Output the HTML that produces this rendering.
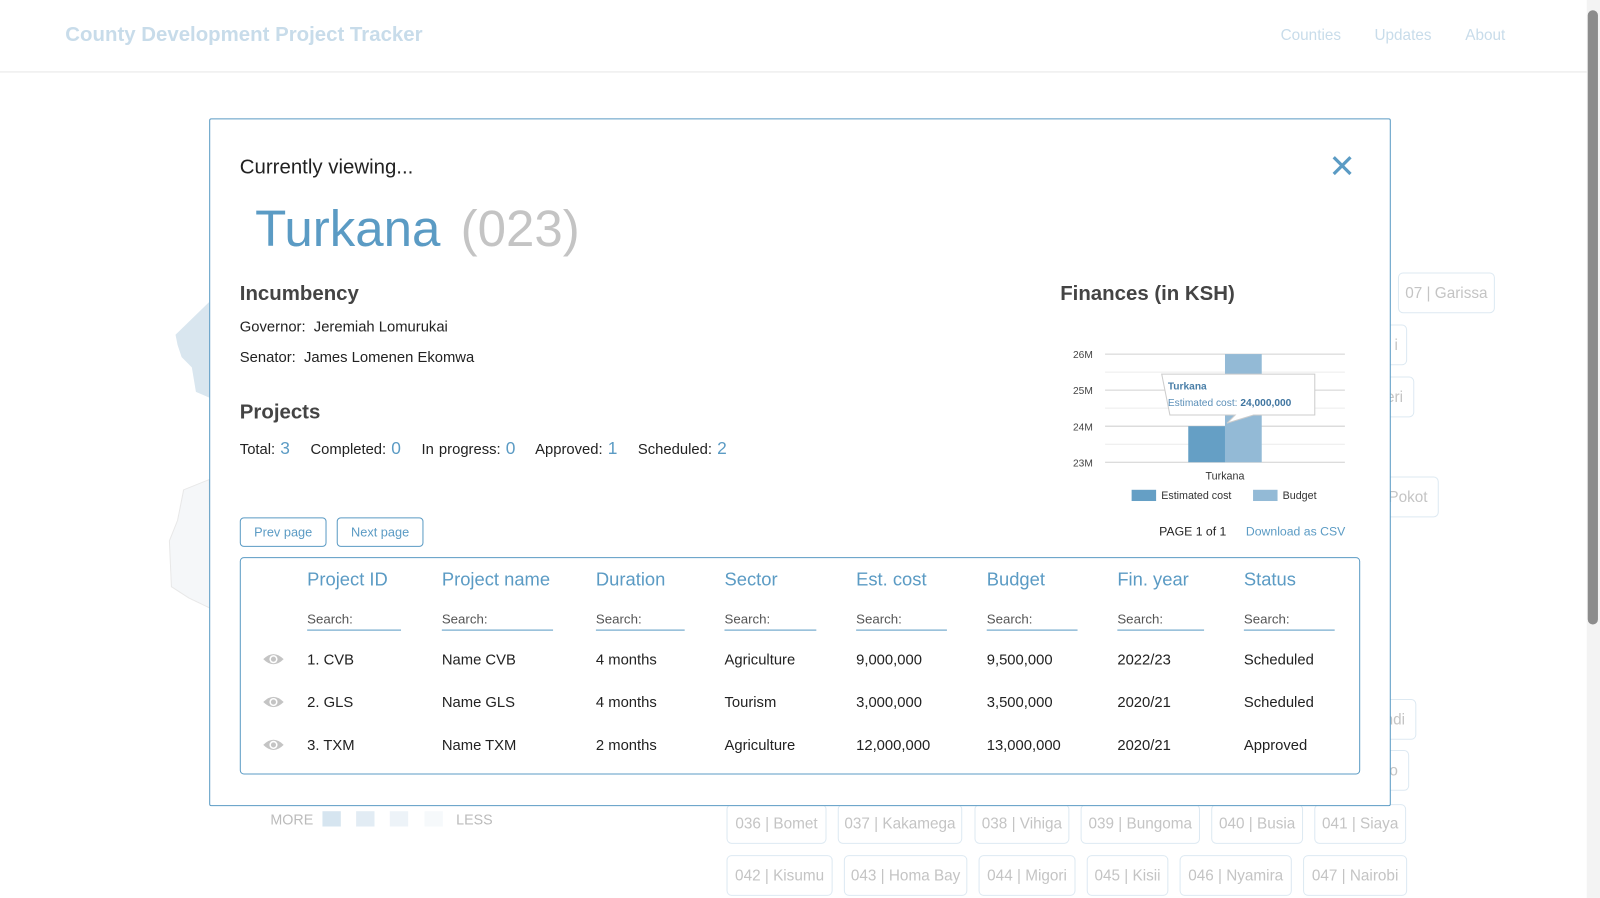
<!DOCTYPE html>
<html><head><meta charset="utf-8">
<style>
*{box-sizing:border-box}
html,body{margin:0;width:1600px;height:898px;overflow:hidden;background:#fff}
#wrap{position:absolute;left:0;top:0;width:1568px;height:880px;transform:scale(1.0204);transform-origin:0 0;font-family:"Liberation Sans",sans-serif;color:#222}
.abs{position:absolute}
.chip{position:absolute;border:1px solid #dde9f2;border-radius:5px;color:#c4c4c4;font-size:15px;display:flex;align-items:center;justify-content:center;white-space:nowrap;overflow:hidden}
.th{position:absolute;top:558px;color:#5b9bc4;font-size:18px}
.srch{position:absolute;top:599px;font-size:13px;color:#555;border-bottom:1px solid #5b9bc4;padding-bottom:3px}
.td{position:absolute;font-size:14.5px;color:#222}
.btn{position:absolute;top:507px;height:29px;border:1px solid #5b9bc4;border-radius:4px;color:#5b9bc4;font-size:12.5px;display:flex;align-items:center;justify-content:center}
</style></head><body>
<div id="wrap">
<div class="abs" style="left:64px;top:23px;font-size:20px;font-weight:bold;color:#c8dcea">County Development Project Tracker</div>
<div class="abs" style="left:1255px;top:26px;font-size:15px;color:#c8dcea">Counties</div>
<div class="abs" style="left:1347px;top:26px;font-size:15px;color:#c8dcea">Updates</div>
<div class="abs" style="left:1436px;top:26px;font-size:15px;color:#c8dcea">About</div>
<div class="abs" style="left:0;top:70px;width:1555px;height:1px;background:#e6e6e6"></div>
<div class="abs" style="left:1555px;top:0;width:13px;height:880px;background:#f3f3f3"><div style="position:absolute;left:1px;top:10px;width:10px;height:602px;background:#8c8c8c;border-radius:5px"></div></div>

<svg class="abs" style="left:160px;top:290px" width="50" height="310">
<polygon points="12,38 45,6 46,100 32,94 28,70 18,60 14,48" fill="#d9e6ef"/>
<polygon points="20,190 45,180 46,306 25,296 8,285 6,240 14,220" fill="#f5f7f9" stroke="#e8e8e8"/>
</svg>

<div class="chip" style="left:1370px;top:267px;width:95px;height:40px">07 | Garissa</div>
<div class="chip" style="left:1340px;top:318px;width:39px;height:40px;justify-content:flex-end;padding-right:8px">i</div>
<div class="chip" style="left:1340px;top:369px;width:46px;height:40px;justify-content:flex-end;padding-right:10px">eri</div>
<div class="chip" style="left:1340px;top:467px;width:70px;height:40px;justify-content:flex-end;padding-right:10px">Pokot</div>
<div class="chip" style="left:1340px;top:685px;width:48px;height:40px;justify-content:flex-end;padding-right:10px">ndi</div>
<div class="chip" style="left:1340px;top:735px;width:41px;height:40px;justify-content:flex-end;padding-right:10px">o</div>

<div class="abs" style="left:265px;top:795px;font-size:14px;color:#bbb">MORE</div>
<div class="abs" style="left:316px;top:795px;width:18px;height:15px;background:#d6e5f0"></div>
<div class="abs" style="left:349px;top:795px;width:18px;height:15px;background:#e2ecf4"></div>
<div class="abs" style="left:382px;top:795px;width:18px;height:15px;background:#edf3f8"></div>
<div class="abs" style="left:416px;top:795px;width:18px;height:15px;background:#f6f9fb"></div>
<div class="abs" style="left:447px;top:795px;font-size:14px;color:#bbb">LESS</div>

<div class="chip" style="left:712px;top:788px;width:98px;height:39px">036 | Bomet</div>
<div class="chip" style="left:821px;top:788px;width:122px;height:39px">037 | Kakamega</div>
<div class="chip" style="left:955px;top:788px;width:93px;height:39px">038 | Vihiga</div>
<div class="chip" style="left:1059px;top:788px;width:117px;height:39px">039 | Bungoma</div>
<div class="chip" style="left:1187px;top:788px;width:90px;height:39px">040 | Busia</div>
<div class="chip" style="left:1288px;top:788px;width:90px;height:39px">041 | Siaya</div>
<div class="chip" style="left:712px;top:838px;width:104px;height:40px">042 | Kisumu</div>
<div class="chip" style="left:827px;top:838px;width:121px;height:40px">043 | Homa Bay</div>
<div class="chip" style="left:959px;top:838px;width:95px;height:40px">044 | Migori</div>
<div class="chip" style="left:1065px;top:838px;width:80px;height:40px">045 | Kisii</div>
<div class="chip" style="left:1156px;top:838px;width:110px;height:40px">046 | Nyamira</div>
<div class="chip" style="left:1277px;top:838px;width:102px;height:40px">047 | Nairobi</div>

<div class="abs" style="left:205px;top:116px;width:1158px;height:674px;border:1px solid #5b9bc4;background:#fff;border-radius:2px"></div>
<div class="abs" style="left:235px;top:153px;font-size:20px;color:#222">Currently viewing...</div>
<div class="abs" style="left:1302px;top:148px;font-size:32px;line-height:30px;color:#5b9bc4">✕</div>
<div class="abs" style="left:250px;top:195px;font-size:50px;color:#5b9bc4">Turkana <span style="color:#c4c4c4;margin-left:6px">(023)</span></div>

<div class="abs" style="left:235px;top:277px;font-size:20px;font-weight:bold;color:#444">Incumbency</div>
<div class="abs" style="left:235px;top:313px;font-size:14.5px">Governor:&nbsp; Jeremiah Lomurukai</div>
<div class="abs" style="left:235px;top:343px;font-size:14.5px">Senator:&nbsp; James Lomenen Ekomwa</div>
<div class="abs" style="left:235px;top:393px;font-size:20px;font-weight:bold;color:#444">Projects</div>
<div class="abs" style="left:235px;top:430px;font-size:14.5px;word-spacing:1px">Total: <span style="color:#5b9bc4;font-size:17px">3</span>&nbsp;&nbsp;&nbsp; Completed: <span style="color:#5b9bc4;font-size:17px">0</span>&nbsp;&nbsp;&nbsp; In progress: <span style="color:#5b9bc4;font-size:17px">0</span>&nbsp;&nbsp;&nbsp; Approved: <span style="color:#5b9bc4;font-size:17px">1</span>&nbsp;&nbsp;&nbsp; Scheduled: <span style="color:#5b9bc4;font-size:17px">2</span></div>

<div class="abs" style="left:1039px;top:277px;font-size:20px;font-weight:bold;color:#444">Finances (in KSH)</div>
<svg class="abs" id="chart" style="left:1030px;top:330px" width="300" height="170"></svg>

<div class="btn" style="left:235px;width:85px">Prev page</div>
<div class="btn" style="left:330px;width:85px">Next page</div>
<div class="abs" style="left:1136px;top:514px;font-size:12px">PAGE 1 of 1</div>
<div class="abs" style="left:1221px;top:514px;font-size:12px;color:#5b9bc4">Download as CSV</div>

<div class="abs" style="left:235px;top:546px;width:1098px;height:213px;border:1px solid #5b9bc4;border-radius:4px"></div>
<div class="th" style="left:301px">Project ID</div>
<div class="th" style="left:433px">Project name</div>
<div class="th" style="left:584px">Duration</div>
<div class="th" style="left:710px">Sector</div>
<div class="th" style="left:839px">Est. cost</div>
<div class="th" style="left:967px">Budget</div>
<div class="th" style="left:1095px">Fin. year</div>
<div class="th" style="left:1219px">Status</div>
<div class="srch" style="left:301px;width:92px">Search:</div>
<div class="srch" style="left:433px;width:109px">Search:</div>
<div class="srch" style="left:584px;width:87px">Search:</div>
<div class="srch" style="left:710px;width:90px">Search:</div>
<div class="srch" style="left:839px;width:89px">Search:</div>
<div class="srch" style="left:967px;width:89px">Search:</div>
<div class="srch" style="left:1095px;width:85px">Search:</div>
<div class="srch" style="left:1219px;width:89px">Search:</div>
<div id="rows"></div>
</div>

<script>
const rows=[
["1. CVB","Name CVB","4 months","Agriculture","9,000,000","9,500,000","2022/23","Scheduled"],
["2. GLS","Name GLS","4 months","Tourism","3,000,000","3,500,000","2020/21","Scheduled"],
["3. TXM","Name TXM","2 months","Agriculture","12,000,000","13,000,000","2020/21","Approved"]];
const colX=[301,433,584,710,839,967,1095,1219];
const rc=document.getElementById('rows');
rows.forEach((r,i)=>{
 const y=639+i*42;
 const eye=document.createElement('div');
 eye.className='td';eye.style.left='257px';eye.style.top=(y-1)+'px';
 eye.innerHTML='<svg width="22" height="16"><path d="M1,8 Q11,-2 21,8 Q11,18 1,8Z" fill="#c4c4c4"/><circle cx="11" cy="8" r="4" fill="#fff"/><circle cx="11" cy="8" r="2.5" fill="#c4c4c4"/></svg>';
 
 
 rc.appendChild(eye);
 r.forEach((v,j)=>{
  const d=document.createElement('div');d.className='td';d.style.left=colX[j]+'px';d.style.top=y+'px';d.textContent=v;
  
  
  rc.appendChild(d);
 });
});

const categories=["Turkana"];
const estCost=[24000000];
const budget=[26000000];
const yTicks=[23000000,24000000,25000000,26000000];
const yTickLabels=["23M","24M","25M","26M"];
const seriesNames=["Estimated cost","Budget"];
const NS='http://www.w3.org/2000/svg';
const svg=document.getElementById('chart');
const x0=53,x1=288,yMin=23000000,yMax=26000000,py0=123,py1=17;
const yS=v=>py0-(v-yMin)/(yMax-yMin)*(py0-py1);
function el(t,a){const e=document.createElementNS(NS,t);for(const k in a)e.setAttribute(k,a[k]);svg.appendChild(e);return e;}
for(let i=0;i<yTicks.length;i++){
 const y=yS(yTicks[i]);
 const g=el('line',{x1:x0,x2:x1,y1:y,y2:y,stroke:'#d0d0d0'});
 
 
 if(i<yTicks.length-1){const m=yS((yTicks[i]+yTicks[i+1])/2);const g2=el('line',{x1:x0,x2:x1,y1:m,y2:m,stroke:'#ececec'});
 
 }
 const t=el('text',{x:x0-12,y:y+4,'text-anchor':'end','font-size':10,fill:'#444','font-family':'Liberation Sans'});t.textContent=yTickLabels[i];
 
 
}
const bw=(x1-x0)/categories.length;
categories.forEach((c,i)=>{
 const cx=x0+bw*(i+0.5);
 const b1=el('rect',{x:cx-36,y:yS(estCost[i]),width:36,height:py0-yS(estCost[i]),fill:'#659fc5'});
 
 
 const b2=el('rect',{x:cx,y:yS(budget[i]),width:36,height:py0-yS(budget[i]),fill:'#93bad6'});
 
 
 const t=el('text',{x:cx,y:140,'text-anchor':'middle','font-size':10.5,fill:'#333','font-family':'Liberation Sans'});t.textContent=c;
 
 
 const ty=yS(estCost[i]);
 const tt=el('path',{d:`M${cx-62},${ty-51} h150 v40 h-60 l-26,8 l8,-8 h-64 z`,fill:'#fff',stroke:'#ccc'});
 
 
 const t1=el('text',{x:cx-56,y:ty-36,'font-size':10,'font-weight':'bold',fill:'#4a7fa8','font-family':'Liberation Sans'});t1.textContent=c;
 
 
 const t2=el('text',{x:cx-56,y:ty-20,'font-size':10,fill:'#5b8fb8','font-family':'Liberation Sans'});
 t2.innerHTML='Estimated cost: <tspan font-weight="bold" fill="#3f75a0">'+estCost[i].toLocaleString('en-US')+'</tspan>';
 
 
});
const lx=[79,198],lc=['#659fc5','#93bad6'];
seriesNames.forEach((n,i)=>{
 const r=el('rect',{x:lx[i],y:150,width:24,height:11,fill:lc[i]});
 
 
 const t=el('text',{x:lx[i]+29,y:159,'font-size':10.5,fill:'#333','font-family':'Liberation Sans'});t.textContent=n;
 
 
});
</script>
</body></html>
